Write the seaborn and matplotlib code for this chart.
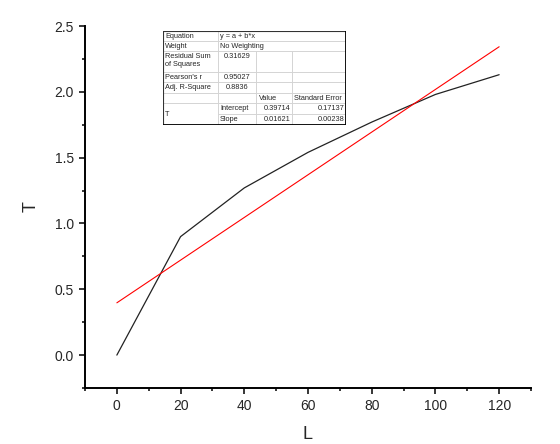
import numpy as np
import matplotlib
matplotlib.use("Agg")
import matplotlib.pyplot as plt
import seaborn as sns
from matplotlib.ticker import MultipleLocator

# --- data ---
L_vals = [0, 20, 40, 60, 80, 100, 120]
T_vals = [0.0, 0.90, 1.27, 1.54, 1.77, 1.98, 2.13]

intercept = 0.39714
slope = 0.01621

table_rows = [
    ["Equation", "y = a + b*x"],
    ["Weight", "No Weighting"],
    ["Residual Sum\nof Squares", "0.31629"],
    ["Pearson's r", "0.95027"],
    ["Adj. R-Square", "0.8836"],
]
coef_names = ["Intercept", "Slope"]
coef_values = ["0.39714", "0.01621"]
coef_errors = ["0.17137", "0.00238"]

sns.set_style("ticks")
plt.rcParams["font.family"] = ["Liberation Sans", "DejaVu Sans"]

fig = plt.figure(figsize=(5.6, 4.44), dpi=100)
ax = fig.add_axes([85 / 560, 1 - 388 / 444, 446 / 560, 362 / 444])

L_arr = np.array(L_vals, dtype=float)
sns.lineplot(x=L_arr, y=T_vals, ax=ax, color="#222222", lw=0.9)
sns.lineplot(x=L_arr, y=intercept + slope * L_arr, ax=ax, color="red", lw=0.8)

ax.set_xlim(-10, 130)
ax.set_ylim(-0.25, 2.5)
ax.xaxis.set_major_locator(MultipleLocator(20))
ax.xaxis.set_minor_locator(MultipleLocator(10))
ax.yaxis.set_major_locator(MultipleLocator(0.5))
ax.yaxis.set_minor_locator(MultipleLocator(0.25))
ax.yaxis.set_major_formatter(matplotlib.ticker.FormatStrFormatter("%.1f"))
ax.tick_params(which="major", length=4.5, width=1.1, labelsize=10, pad=3.5, color="black")
ax.tick_params(which="minor", length=2.5, width=1.1, color="black")
sns.despine(ax=ax)
for s in ["left", "bottom"]:
    ax.spines[s].set_linewidth(1.4)
    ax.spines[s].set_color("black")
ax.set_xlabel("L", fontsize=13, labelpad=9)
ax.set_ylabel("T", fontsize=13, labelpad=11)

# --- fit report table (pixel coords inset) ---
tx = fig.add_axes([163 / 560, 1 - 125 / 444, 183 / 560, 94 / 444])
tx.set_xlim(163, 346)
tx.set_ylim(125, 31)
tx.axis("off")
cols = [163, 218, 256, 292, 346]
rows = [31, 41, 51.5, 72, 82.5, 93, 103.5, 114, 125]
grid = "#d4d4d4"
fs = 5.3

for y in rows[1:-1]:
    x0 = cols[1] if y == rows[7] else cols[0]
    tx.plot([x0, cols[4]], [y, y], color=grid, lw=0.7)
tx.plot([cols[1], cols[1]], [rows[0], rows[-1]], color=grid, lw=0.7)
for c in cols[2:4]:
    tx.plot([c, c], [rows[2], rows[-1]], color=grid, lw=0.7)
tx.plot([cols[0], cols[4], cols[4], cols[0], cols[0]],
        [rows[0], rows[0], rows[-1], rows[-1], rows[0]], color="#333333", lw=0.8)
tx.plot([cols[0], cols[4], cols[4]], [rows[-1], rows[-1], rows[0]], color="black", lw=1.3)

for i, (name, val) in enumerate(table_rows):
    top = rows[i]
    if i == 2:
        tx.text(cols[0] + 2, top + 2, name, fontsize=fs, va="top", linespacing=1.2)
        tx.text((cols[1] + cols[2]) / 2, top + 1.5, val, fontsize=fs, va="top", ha="center")
    else:
        mid = (rows[i] + rows[i + 1]) / 2
        tx.text(cols[0] + 2, mid, name, fontsize=fs, va="center")
        if i < 2:
            tx.text(cols[1] + 2, mid, val, fontsize=fs, va="center")
        else:
            tx.text((cols[1] + cols[2]) / 2, mid, val, fontsize=fs, va="center", ha="center")

hmid = (rows[5] + rows[6]) / 2
tx.text(cols[2] + 3, hmid, "Value", fontsize=fs, va="center")
tx.text(cols[3] + 1.5, hmid, "Standard Error", fontsize=fs, va="center")
tx.text(cols[0] + 2, (rows[6] + rows[8]) / 2, "T", fontsize=fs, va="center")
for k in range(2):
    mid = (rows[6 + k] + rows[7 + k]) / 2
    tx.text(cols[1] + 2, mid, coef_names[k], fontsize=fs, va="center")
    tx.text(cols[3] - 2, mid, coef_values[k], fontsize=fs, va="center", ha="right")
    tx.text(cols[4] - 2, mid, coef_errors[k], fontsize=fs, va="center", ha="right")

fig.savefig("out.png", dpi=100)
